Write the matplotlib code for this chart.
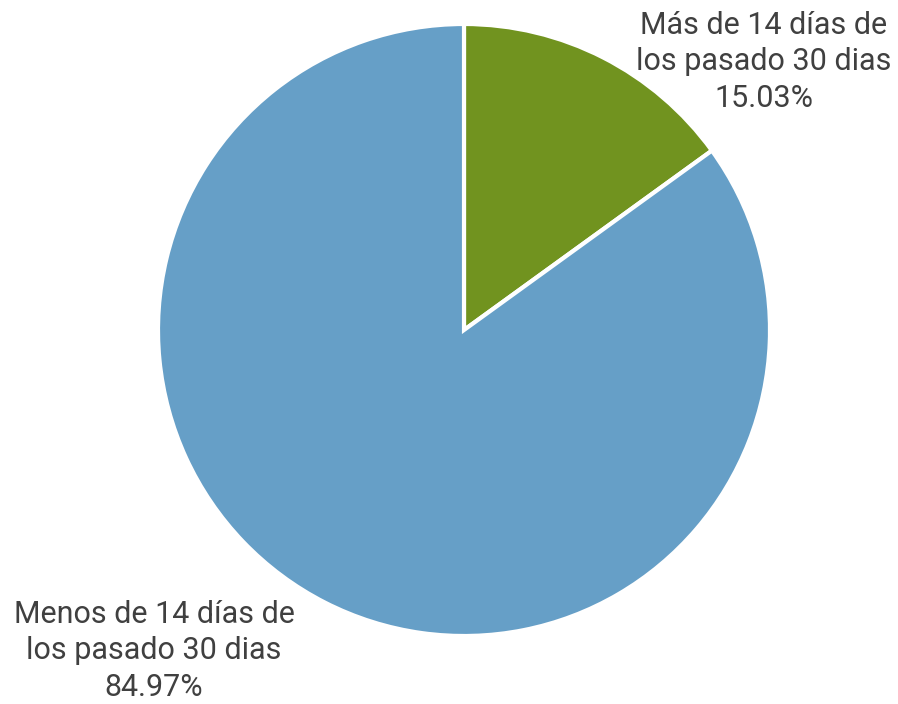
import matplotlib
matplotlib.use("Agg")
import matplotlib.pyplot as plt

# data
categories = ["Más de 14 días de\nlos pasado 30 dias", "Menos de 14 días de\nlos pasado 30 dias"]
shares = [15.03, 84.97]
colors = ["#71931F", "#669FC7"]

# label positions in data units (pie radius = 1)
label_pos = [(0.98, 0.876), (-1.013, -1.049)]

fig = plt.figure(figsize=(8.98, 7.04), dpi=100)
ax = fig.add_axes([0, 0, 1, 1])

ax.pie(shares, colors=colors, startangle=90, counterclock=False,
       radius=1.0, center=(0, 0),
       wedgeprops=dict(edgecolor="white", linewidth=3))

for cat, val, (x, y) in zip(categories, shares, label_pos):
    ax.text(x, y, f"{cat}\n{val:.2f}%", ha="center", va="center",
            fontsize=22, color="#404040", family="Roboto", linespacing=1.32)

# pixel mapping: centre at (464, 330) px, radius 306 px
ax.set_xlim(-464 / 306, (898 - 464) / 306)
ax.set_ylim(-(704 - 330) / 306, 330 / 306)
ax.set_aspect("auto")
ax.axis("off")

fig.savefig("out.png", dpi=100)
